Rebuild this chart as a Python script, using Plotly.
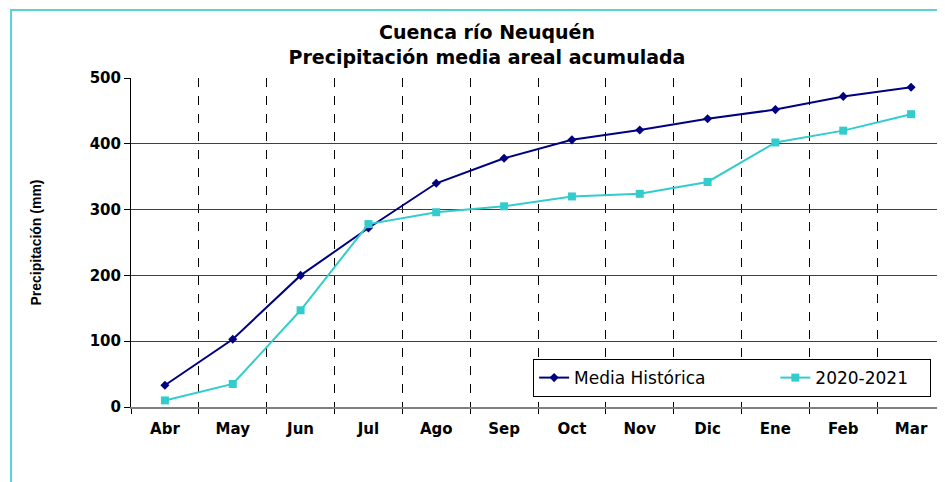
import plotly.graph_objects as go

# months of the hydrological year
meses = ["Abr", "May", "Jun", "Jul", "Ago", "Sep", "Oct", "Nov", "Dic", "Ene", "Feb", "Mar"]

# accumulated areal precipitation (mm)
mediaHistorica = [33, 103, 200, 272, 340, 378, 406, 421, 438, 452, 472, 486]
temporada2020 = [10, 35, 147, 278, 296, 305, 320, 324, 342, 402, 420, 445]

yTicks = [0, 100, 200, 300, 400, 500]

WIDE = "DejaVu Sans, Verdana, sans-serif"

fig = go.Figure()
fig.add_trace(go.Scatter(
    x=meses, y=mediaHistorica, name="Media Histórica" + "&nbsp;" * 12,
    mode="lines+markers",
    line=dict(color="#000080", width=2),
    marker=dict(symbol="diamond", size=7, color="#000080"),
))
fig.add_trace(go.Scatter(
    x=meses, y=temporada2020, name="2020-2021&nbsp;&nbsp;&nbsp;",
    mode="lines+markers",
    line=dict(color="#33CCCC", width=2),
    marker=dict(symbol="square", size=8, color="#33CCCC"),
))

# cyan chart-area border (left and top edges)
fig.add_shape(type="rect", xref="paper", yref="paper",
              x0=-0.1474, x1=1.2, y0=-0.4, y1=1.2067,
              line=dict(color="#5BD3D3", width=2), layer="below")

# page body has an 8px margin, so the figure is 8px smaller than the window
fig.update_layout(
    width=937, height=474,
    margin=dict(l=123, r=0, t=70, b=75, autoexpand=False),
    paper_bgcolor="white", plot_bgcolor="white",
    font=dict(family=WIDE, color="black"),
    title=dict(
        text="<b>Cuenca río Neuquén<br>Precipitación media areal acumulada</b>",
        x=(487 - 8) / 937, xref="container", xanchor="center",
        y=1 - 31 / 474, yref="container", yanchor="middle",
        font=dict(size=19, family=WIDE),
    ),
    showlegend=True,
    legend=dict(
        orientation="h", x=0.494, xanchor="left", y=0.088, yanchor="middle",
        bordercolor="black", borderwidth=1, bgcolor="white",
        font=dict(size=17, family=WIDE),
        tracegroupgap=0, itemwidth=30,
    ),
)
fig.update_xaxes(
    type="category", tickson="boundaries",
    showgrid=True, gridcolor="black", griddash="dash", gridwidth=1,
    showline=True, linecolor="#808080", linewidth=2,
    ticks="outside", ticklen=5, tickcolor="black",
    tickfont=dict(size=15, family=WIDE), ticklabelstandoff=7,
    ticktext=[f"<b>{m}</b>" for m in meses], tickvals=meses,
    range=[-0.5, 11.5],
)
fig.update_yaxes(
    range=[0, 500], tickvals=yTicks, ticktext=[f"<b>{v}</b>" for v in yTicks],
    showgrid=True, gridcolor="#404040", gridwidth=1,
    showline=True, linecolor="black", linewidth=1,
    ticks="outside", ticklen=6, tickcolor="black",
    tickfont=dict(size=15, family=WIDE),
    title=dict(text="<b>Precipitación (mm)</b>", font=dict(size=14, family="Liberation Sans, Arial"), standoff=44),
    zeroline=False,
)

fig.write_html("out.html")
